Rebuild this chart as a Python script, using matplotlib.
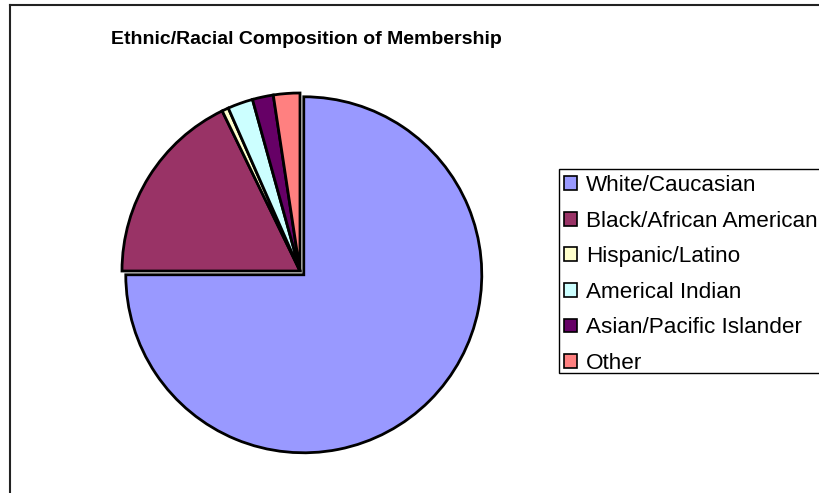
# Ethnic/Racial Composition of Membership - pie chart

import matplotlib
matplotlib.use("Agg")
import matplotlib.pyplot as plt
from matplotlib.patches import Patch, Rectangle
from matplotlib.lines import Line2D

# Data (percent of membership)
groups = [
    "White/Caucasian",
    "Black/African American",
    "Hispanic/Latino",
    "Americal Indian",
    "Asian/Pacific Islander",
    "Other",
]
shares = [75.0, 17.8, 0.6, 2.3, 1.9, 2.4]
colors = ["#9999FF", "#993366", "#FFFFCC", "#CCFFFF", "#660066", "#FF8080"]
explode = [0.03, 0, 0, 0, 0, 0]

W, H = 820, 493
plt.rcParams["font.family"] = ["Liberation Sans", "DejaVu Sans"]

fig = plt.figure(figsize=(W / 100, H / 100), dpi=100)

# Chart frame (only top and left edges are visible in the crop)
fig.add_artist(Line2D([10 / W, 1], [1 - 5 / H, 1 - 5 / H], transform=fig.transFigure,
                      color="#222222", lw=1.5))
fig.add_artist(Line2D([10 / W, 10 / W], [0, 1 - 5 / H], transform=fig.transFigure,
                      color="#222222", lw=1.5))

# Pie axes: centre at (300, 271) px, radius 178 px
R = 178
cx, cy = 300, 271
lim = 1.1
ax = fig.add_axes([(cx - lim * R) / W, (H - cy - lim * R) / H,
                   2 * lim * R / W, 2 * lim * R / H])
ax.pie(
    shares,
    colors=colors,
    explode=explode,
    startangle=90,
    counterclock=False,
    radius=1,
    wedgeprops=dict(edgecolor="black", linewidth=2.0),
)
ax.set_xlim(-lim, lim)
ax.set_ylim(-lim, lim)
ax.set_aspect("auto")
ax.axis("off")

# Title
fig.text(306 / W, 1 - 40 / H, "Ethnic/Racial Composition of Membership",
         ha="center", va="center", fontsize=14, fontweight="bold")

# Legend box (runs off the right edge, as in the original)
fig.add_artist(Rectangle((559 / W, 1 - 373 / H), 300 / W, 204 / H,
                         transform=fig.transFigure, facecolor="white",
                         edgecolor="black", linewidth=1.0, zorder=1))

handles = [Patch(facecolor=c, edgecolor="black", linewidth=1.2) for c in colors]
leg = fig.legend(
    handles, groups,
    loc="upper left",
    bbox_to_anchor=(564 / W, 1 - 175 / H),
    fontsize=16.2,
    frameon=False,
    handlelength=0.57,
    handleheight=0.57,
    handletextpad=0.42,
    labelspacing=0.65,
    borderpad=0,
    borderaxespad=0,
)
leg.set_zorder(2)

plt.savefig("out.png", dpi=100)
plt.close()
print("saved out.png")
